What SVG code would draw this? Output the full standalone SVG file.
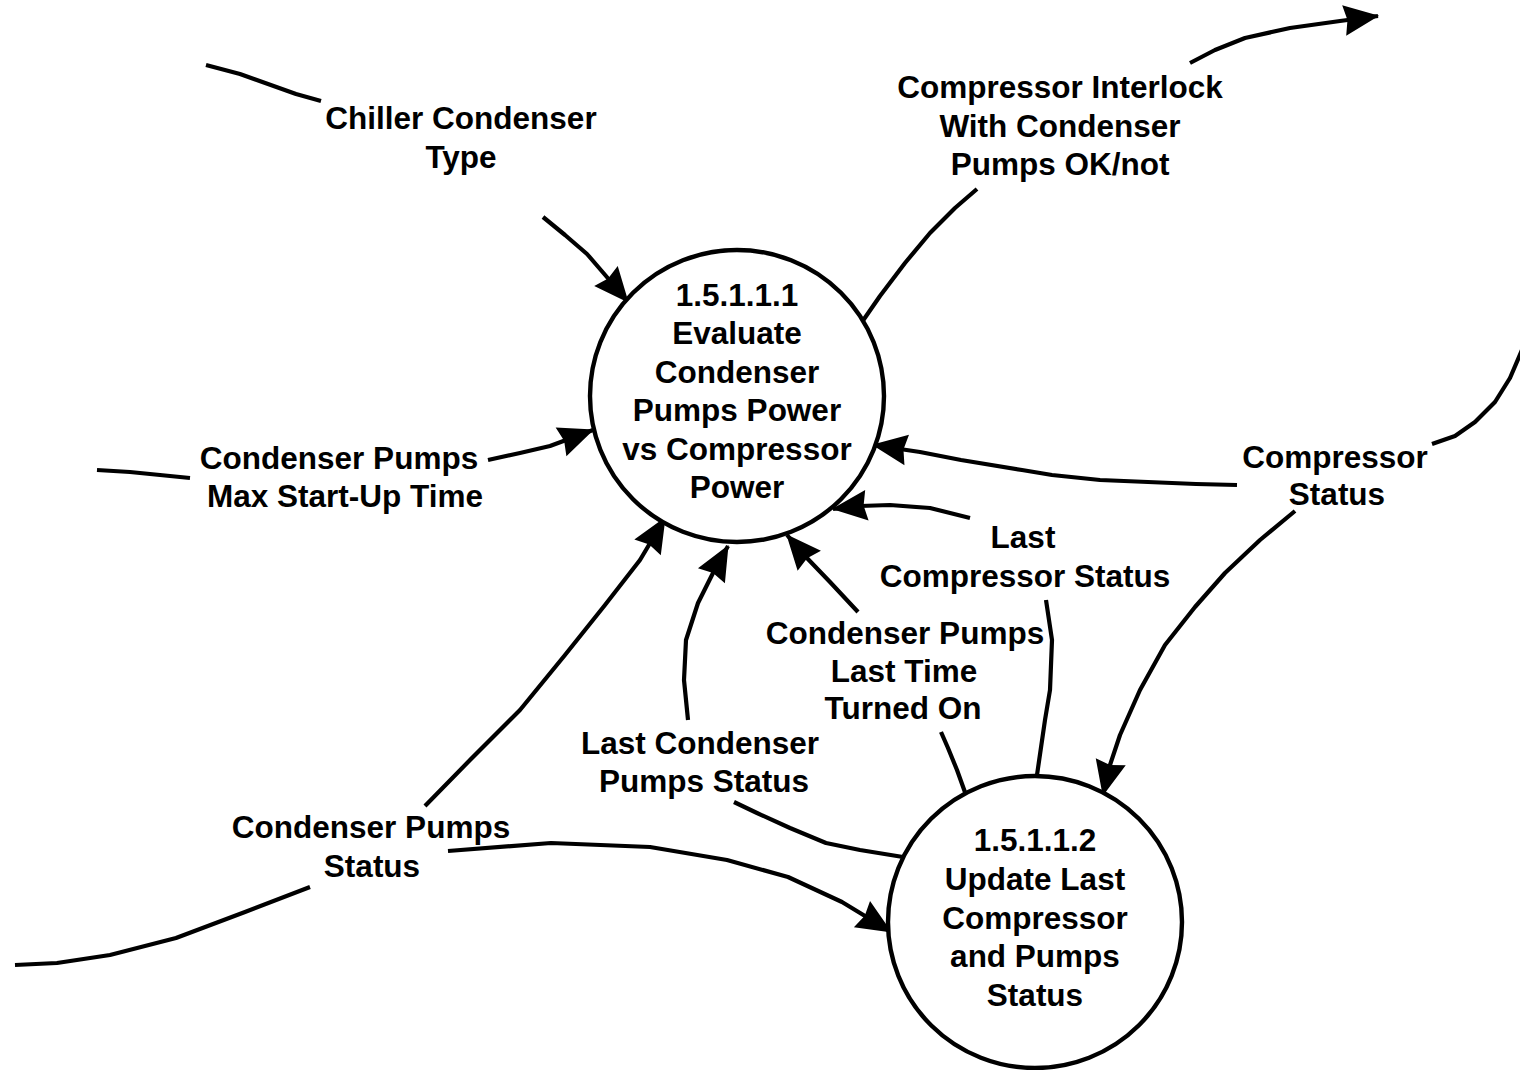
<svg xmlns="http://www.w3.org/2000/svg" width="1520" height="1070" viewBox="0 0 1520 1070" font-family="'Liberation Sans', Arial, sans-serif">
<defs>
<style>
.node{fill:#fff;stroke:#000;stroke-width:4.4}
.c{fill:none;stroke:#000;stroke-width:4.2;stroke-linejoin:round}
.t{font-family:'Liberation Sans', Arial, sans-serif;font-weight:700;font-size:31.5px;text-anchor:middle;fill:#000}
</style>
<marker id="ah" markerUnits="userSpaceOnUse" markerWidth="44" markerHeight="44" viewBox="-36 -17 40 34" refX="0" refY="0" orient="auto">
<path d="M1,0 L-31,-14 L-28,0 L-31,14 Z" fill="#000"/>
</marker>
</defs>
<rect width="1520" height="1070" fill="#fff"/>
<g id="connectors">
<polyline class="c" points="206,65 240,74 268,84 296,94 321,101"/>
<polyline class="c" points="543,217 565,235 587,254 606,276 628,302" marker-end="url(#ah)"/>
<polyline class="c" points="862,322 880,296 905,263 930,233 955,208 977,189"/>
<polyline class="c" points="1190,63 1215,50 1245,38 1290,28 1340,21 1378,16" marker-end="url(#ah)"/>
<polyline class="c" points="97,470 130,472 160,475 190,478"/>
<polyline class="c" points="488,460 520,453 550,446 593,430" marker-end="url(#ah)"/>
<polyline class="c" points="1522,350 1510,378 1495,402 1475,422 1455,436 1432,444"/>
<polyline class="c" points="1237,485 1196,484 1100,480 1052,475 1022,470 961,460 920,452 873,445" marker-end="url(#ah)"/>
<polyline class="c" points="1295,511 1260,540 1225,573 1195,607 1165,645 1140,690 1120,735 1110,765 1103,795" marker-end="url(#ah)"/>
<polyline class="c" points="1037,775 1045,720 1050,690 1052,640 1046,600"/>
<polyline class="c" points="970,518 930,508 890,505 860,506 833,509" marker-end="url(#ah)"/>
<polyline class="c" points="966,795 957,770 948,748 941,732"/>
<polyline class="c" points="858,612 830,582 806,557 787,535" marker-end="url(#ah)"/>
<polyline class="c" points="903,857 860,850 826,843 790,828 757,813 734,802"/>
<polyline class="c" points="688,720 684,680 686,640 698,603 713,573 728,546" marker-end="url(#ah)"/>
<polyline class="c" points="425,806 470,760 520,710 565,655 605,605 640,560 665,518" marker-end="url(#ah)"/>
<polyline class="c" points="15,965 57,963 110,955 176,938 245,912 310,887"/>
<polyline class="c" points="448,851 551,843 650,847 727,860 788,877 842,902 865,916 891,932" marker-end="url(#ah)"/>
</g>
<g id="node1">
<ellipse class="node" cx="737" cy="396" rx="147" ry="146"/>
<text class="t" x="737" y="306">1.5.1.1.1</text>
<text class="t" x="737" y="344">Evaluate</text>
<text class="t" x="737" y="383">Condenser</text>
<text class="t" x="737" y="421">Pumps Power</text>
<text class="t" x="737" y="460">vs Compressor</text>
<text class="t" x="737" y="498">Power</text>
</g>
<g id="node2">
<ellipse class="node" cx="1035" cy="922" rx="147" ry="146"/>
<text class="t" x="1035" y="851">1.5.1.1.2</text>
<text class="t" x="1035" y="890">Update Last</text>
<text class="t" x="1035" y="929">Compressor</text>
<text class="t" x="1035" y="967">and Pumps</text>
<text class="t" x="1035" y="1006">Status</text>
</g>
<g id="labels">
<text class="t" x="461" y="129">Chiller Condenser</text>
<text class="t" x="461" y="168">Type</text>
<text class="t" x="1060" y="98">Compressor Interlock</text>
<text class="t" x="1060" y="137">With Condenser</text>
<text class="t" x="1060" y="175">Pumps OK/not</text>
<text class="t" x="339" y="469">Condenser Pumps</text>
<text class="t" x="345" y="507">Max Start-Up Time</text>
<text class="t" x="1335" y="468">Compressor</text>
<text class="t" x="1337" y="505">Status</text>
<text class="t" x="1023" y="548">Last</text>
<text class="t" x="1025" y="587">Compressor Status</text>
<text class="t" x="905" y="644">Condenser Pumps</text>
<text class="t" x="904" y="682">Last Time</text>
<text class="t" x="903" y="719">Turned On</text>
<text class="t" x="700" y="754">Last Condenser</text>
<text class="t" x="704" y="792">Pumps Status</text>
<text class="t" x="371" y="838">Condenser Pumps</text>
<text class="t" x="372" y="877">Status</text>
</g>
</svg>
